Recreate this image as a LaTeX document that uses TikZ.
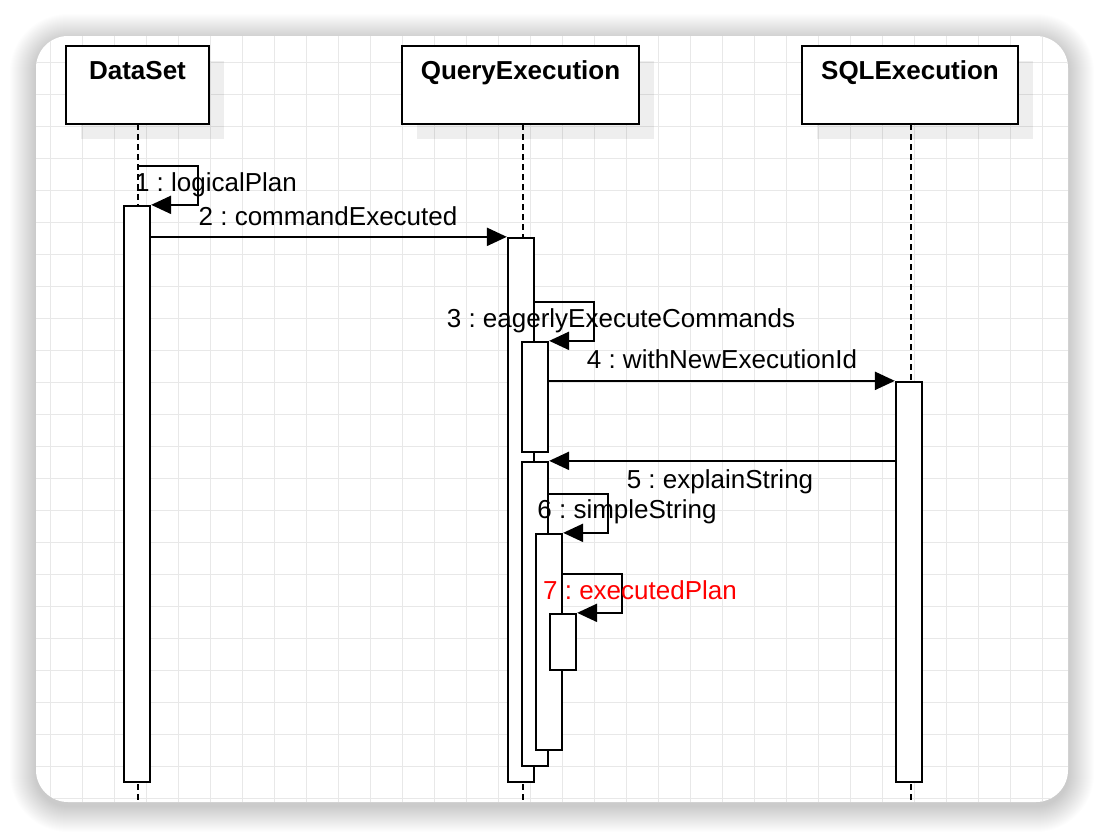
\documentclass[tikz,border=0pt]{standalone}
\usepackage{fontspec}
\setmainfont{Liberation Sans}
\usetikzlibrary{arrows.meta}
\definecolor{gridc}{HTML}{E8E8E8}
\definecolor{redtxt}{HTML}{FF0000}
\frenchspacing
\begin{document}
\frenchspacing
\begin{tikzpicture}[x=1pt,y=-1pt,
  actor/.style={draw=black,line width=2.3pt,fill=white,rectangle,inner sep=0pt},
  actshadow/.style={fill=black,opacity=0.065},
  act/.style={draw=black,line width=2.3pt,fill=white,rectangle,inner sep=0pt,minimum width=26pt},
  life/.style={line width=2pt,dash pattern=on 6pt off 4pt},
  msg/.style={line width=2.3pt,-{Triangle[length=20pt,width=18pt]}},
  ttl/.style={font=\fontsize{26}{31}\selectfont\bfseries\frenchspacing,anchor=base,inner sep=0pt},
  lbl/.style={font=\fontsize{26}{31}\selectfont\frenchspacing,anchor=base,inner sep=0pt}]
\useasboundingbox (0,0) rectangle (1104,838);
% background shadow
\foreach \i in {1,...,26}{
  \pgfmathsetmacro\rr{32+\i}
  \fill[black,opacity=0.006,rounded corners=\rr pt] (36-\i,40-\i) rectangle (1068+\i,806+\i);
}
\fill[white,rounded corners=32pt] (36,36) rectangle (1068,802);
% grid
\begin{scope}
  \clip[rounded corners=32pt] (36,36) rectangle (1068,802);
  \foreach \gx in {50,82,...,1066} \draw[gridc,line width=1pt] (\gx,36) -- (\gx,802);
  \foreach \gy in {62,94,...,800} \draw[gridc,line width=1pt] (36,\gy) -- (1068,\gy);
\end{scope}
\coordinate (bot) at (0,802);
% actor shadows
\fill[actshadow] (81,61) rectangle (224,139);
\fill[actshadow] (417,61) rectangle (654,139);
\fill[actshadow] (817,61) rectangle (1033,139);
% actors
\node[actor,minimum width=143pt,minimum height=78pt] (ds) at (137.5,85) {};
\node[actor,minimum width=237pt,minimum height=78pt] (qe) at (520.5,85) {};
\node[actor,minimum width=216pt,minimum height=78pt] (se) at (910,85) {};
\node[ttl] (dst) at (137.5,79) {DataSet};
\node[ttl] (qet) at (520.5,79) {QueryExecution};
\node[ttl] (set) at (910,79) {SQLExecution};
% lifelines
\coordinate (dsl) at (138,124);
\coordinate (qel) at (523,124);
\coordinate (sel) at (911,124);
\draw[life] (dsl) -- (dsl |- bot);
\draw[life] (qel) -- (qel |- bot);
\draw[life] (sel) -- (sel |- bot);
% activations
\node[act,minimum height=576pt] (a1) at (137,494) {};
\node[act,minimum height=544pt] (q0) at (521,510) {};
\node[act,minimum height=110pt] (q1) at (535,397) {};
\node[act,minimum height=304pt] (q2) at (535,614) {};
\node[act,minimum height=216pt] (q3) at (549,642) {};
\node[act,minimum height=56pt] (q4) at (563,642) {};
\node[act,minimum height=400pt] (s0) at (909,582) {};
% messages
\coordinate (m1s) at (138,166);
\draw[msg] (m1s) -- ++(60,0) |- (a1.north east);
\draw[msg] (a1.east |- q0.north) -- (q0.north west);
\coordinate (m3s) at (534,302);
\draw[msg] (m3s) -- ++(60,0) |- (q1.north east);
\draw[msg] (q1.east |- s0.north) -- (s0.north west);
\draw[msg] (s0.west |- q2.north) -- (q2.north east);
\coordinate (m6s) at (548,494);
\draw[msg] (m6s) -- ++(60,0) |- (q3.north east);
\coordinate (m7s) at (562,574);
\draw[msg] (m7s) -- ++(60,0) |- (q4.north east);
% labels
\node[lbl] (l1) at (216,191) {1 : logicalPlan};
\node[lbl] (l2) at (328,225) {2 : commandExecuted};
\node[lbl] (l3) at (621,327) {3 : eagerlyExecuteCommands};
\node[lbl] (l4) at (722,368) {4 : withNewExecutionId};
\node[lbl] (l5) at (720,488) {5 : explainString};
\node[lbl] (l6) at (627,518) {6 : simpleString};
\node[lbl,text=redtxt] (l7) at (640,599) {7 : executedPlan};
\end{tikzpicture}
\end{document}
